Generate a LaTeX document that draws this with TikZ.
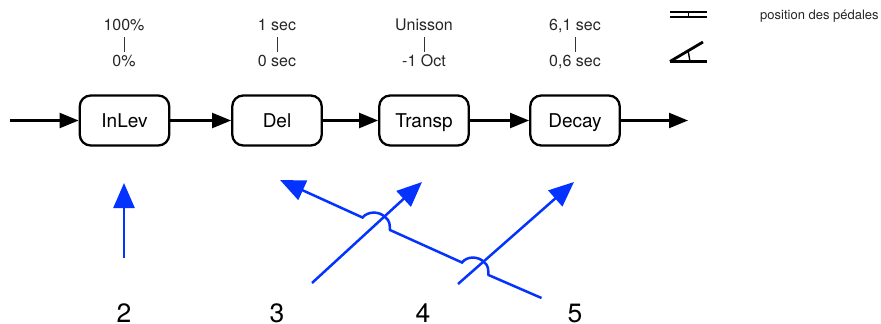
\documentclass[tikz,border=0pt]{standalone}
\usepackage{fontspec}
\setmainfont{TeX Gyre Heros}
\usetikzlibrary{arrows.meta}
\definecolor{bl}{RGB}{4,51,255}
\tikzset{
 box/.style={draw,line width=2.3pt,rounded corners=11pt,minimum width=89.5pt,minimum height=50pt,inner sep=0,text height=13.6pt,text depth=0pt,font=\fontsize{19}{21}\selectfont},
 lab/.style={font=\fontsize{16}{18}\selectfont,inner sep=0,text height=11.5pt,text depth=0pt,text=black!85},
 num/.style={font=\fontsize{26.5}{28}\selectfont,inner sep=0,text height=18.5pt,text depth=0pt},
 flow/.style={line width=2.3pt,-{Triangle[length=19pt,width=15pt]}},
 bluearrow/.style={draw=bl,line width=2.5pt,-{Triangle[length=25pt,width=21pt,color=bl]}},
 thin tick/.style={line width=.8pt,black!80},
 ped/.style={line width=2.8pt},
}
\begin{document}
\begin{tikzpicture}[x=1pt,y=-1pt]
\useasboundingbox (0,0) rectangle (881,324);
\node[box] (inlev) at (124.5,120.5) {InLev};
\node[box] (del) at (277,120.5) {Del};
\node[box] (transp) at (424,120.5) {Transp};
\node[box] (decay) at (575,120.5) {Decay};
\coordinate (in) at (10,120.5);
\coordinate (out) at (688,120.5);
\draw[flow] (in) -- (inlev);
\draw[flow] (inlev) -- (del);
\draw[flow] (del) -- (transp);
\draw[flow] (transp) -- (decay);
\draw[flow] (decay) -- (out);
\foreach \n/\x/\a/\b in {a/124/100\%/0\%,b/277/1 sec/0 sec,c/424/Unisson/-1 Oct,d/575/{6,1 sec}/{0,6 sec}}{
 \node[lab] (top\n) at (\x,25) {\a};
 \node[lab] (bot\n) at (\x,61) {\b};
 \draw[thin tick] (\x,37) -- (\x,52);
}
\coordinate (p1a) at (670,12); \coordinate (p1b) at (707,12);
\coordinate (p2a) at (670,17); \coordinate (p2b) at (707,17);
\draw[ped] (p1a) -- (p1b);
\draw[ped] (p2a) -- (p2b);
\draw[line width=1pt] (688.5,12) -- (688.5,17);
\coordinate (q1) at (670,61.5); \coordinate (q2) at (707,61.5); \coordinate (q3) at (703,42);
\draw[ped] (q1) -- (q2);
\draw[ped] (q1) -- (q3);
\draw[line width=1.4pt] (688,50) -- (690,61.5);
\node[font=\fontsize{13}{15}\selectfont,inner sep=0,anchor=west,text=black!85] (legend) at (760,16) {position des pédales};
\node[num] (n2) at (124,313.5) {2};
\node[num] (n3) at (277,313.5) {3};
\node[num] (n4) at (423,313.5) {4};
\node[num] (n5) at (575,313.5) {5};
\coordinate (s2) at (124,258); \coordinate (t2) at (124,183);
\coordinate (s3) at (312,283); \coordinate (t3) at (422,182);
\coordinate (s4) at (458,284); \coordinate (t4) at (574,182);
\coordinate (s5) at (541.5,298); \coordinate (t5) at (280,180);
\draw[bluearrow] (s2) -- (t2);
\draw[bluearrow] (s3) -- (t3);
\draw[bluearrow] (s4) -- (t4);
\draw[bluearrow] (s5) -- (488.5,275)
  .. controls (488,270) and (489,266) .. (484,262)
  .. controls (478,256) and (467,256) .. (462,262.5)
  -- (390,230)
  .. controls (389.5,225) and (390.5,221) .. (385,217)
  .. controls (379,211) and (368,211) .. (362.5,217.5)
  -- (t5);
\end{tikzpicture}
\end{document}
